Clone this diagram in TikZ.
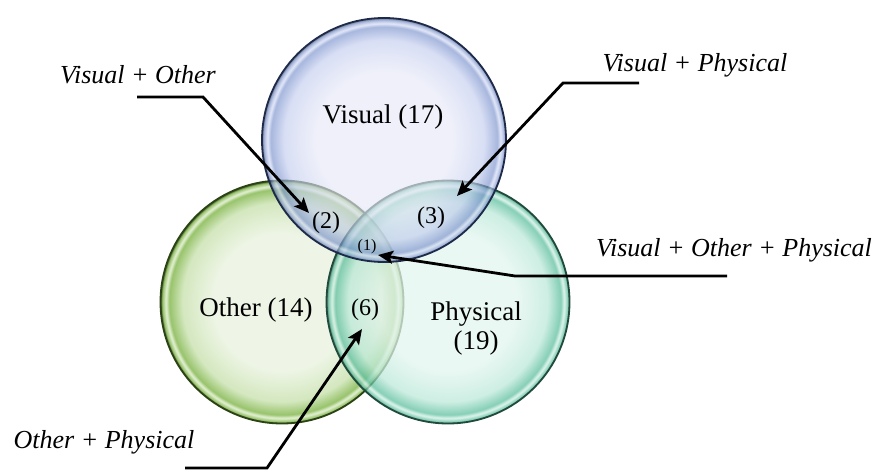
\documentclass[tikz,border=0pt]{standalone}
\usepackage{fontspec}
\setmainfont{Liberation Serif}
\usetikzlibrary{arrows.meta}
\definecolor{vIn}{HTML}{E6E8F7}
\definecolor{vMid}{HTML}{C3CDEE}
\definecolor{vRim}{HTML}{7990CC}
\definecolor{vHi}{HTML}{D4DCF4}
\definecolor{vLine}{HTML}{1E2A4A}
\definecolor{oIn}{HTML}{ECF4E3}
\definecolor{oMid}{HTML}{CFE5B8}
\definecolor{oRim}{HTML}{8DBD5C}
\definecolor{oHi}{HTML}{E2F0D2}
\definecolor{oLine}{HTML}{2A4214}
\definecolor{pIn}{HTML}{E3F5EF}
\definecolor{pMid}{HTML}{BDE9D9}
\definecolor{pRim}{HTML}{5EBF9E}
\definecolor{pHi}{HTML}{D5F1E7}
\definecolor{pLine}{HTML}{1F4A3C}
\pgfdeclareradialshading{bubV}{\pgfpoint{0bp}{0bp}}{color(0bp)=(vIn); color(14bp)=(vIn); color(20.5bp)=(vMid); color(23.2bp)=(vRim); color(23.9bp)=(vHi); color(24.6bp)=(vRim); color(25bp)=(vLine); color(50bp)=(vLine)}
\pgfdeclareradialshading{bubO}{\pgfpoint{0bp}{0bp}}{color(0bp)=(oIn); color(14bp)=(oIn); color(20.5bp)=(oMid); color(23.2bp)=(oRim); color(23.9bp)=(oHi); color(24.6bp)=(oRim); color(25bp)=(oLine); color(50bp)=(oLine)}
\pgfdeclareradialshading{bubP}{\pgfpoint{0bp}{0bp}}{color(0bp)=(pIn); color(14bp)=(pIn); color(20.5bp)=(pMid); color(23.2bp)=(pRim); color(23.9bp)=(pHi); color(24.6bp)=(pRim); color(25bp)=(pLine); color(50bp)=(pLine)}
\tikzset{
  setname/.style={font=\fontsize{27}{29}\selectfont, inner sep=0pt, align=center},
  countlbl/.style={font=\fontsize{24}{26}\selectfont, inner sep=0pt},
  smallcount/.style={font=\fontsize{16}{18}\selectfont, inner sep=0pt},
  callout/.style={font=\fontsize{26}{28}\selectfont\itshape, inner sep=0pt},
  pointer/.style={draw=black, line width=2.8pt, -{Stealth[length=15pt,width=13pt,inset=3pt]}, line join=miter},
  rimline/.style={line width=1.8pt}
}
\begin{document}
\begin{tikzpicture}[x=1pt,y=-1pt]
\useasboundingbox (0,0) rectangle (882,473);
% circles
\shade[shading=bubO, fill opacity=0.9] (282,302) circle (121.5);
\draw[rimline, draw=oLine] (282,302) circle (121.5);
\shade[shading=bubP, fill opacity=0.75] (448,302) circle (121.5);
\draw[rimline, draw=pLine] (448,302) circle (121.5);
\shade[shading=bubV, fill opacity=0.65] (384,140) circle (122);
\draw[rimline, draw=vLine] (384,140) circle (122);
% set labels
\node[setname] (vis) at (383,117) {Visual (17)};
\node[setname] (oth) at (256,310) {Other (14)};
\node[setname] (phy) at (476,329) {Physical\\(19)};
\node[countlbl] (c2) at (326,223) {(2)};
\node[countlbl] (c3) at (431,218) {(3)};
\node[smallcount] (c1) at (367,247) {(1)};
\node[countlbl] (c6) at (365,310) {(6)};
% callout labels
\node[callout] (lvo) at (138,75) {Visual + Other};
\node[callout] (lvp) at (695,65) {Visual + Physical};
\node[callout] (lvop) at (734,250) {Visual + Other + Physical};
\node[callout] (lop) at (104,442) {Other + Physical};
% connector points
\coordinate (a1) at (137,97);
\coordinate (a2) at (203,97);
\coordinate (a3) at (309,213);
\coordinate (b1) at (639,83);
\coordinate (b2) at (563,83);
\coordinate (b3) at (457,196);
\coordinate (d1) at (727,276);
\coordinate (d2) at (515,276);
\coordinate (d3) at (378,255);
\coordinate (e1) at (185,468);
\coordinate (e2) at (267,468);
\coordinate (e3) at (362,329);
\draw[pointer] (a1) -- (a2) -- (a3);
\draw[pointer] (b1) -- (b2) -- (b3);
\draw[pointer] (d1) -- (d2) -- (d3);
\draw[pointer] (e1) -- (e2) -- (e3);
\end{tikzpicture}
\end{document}
